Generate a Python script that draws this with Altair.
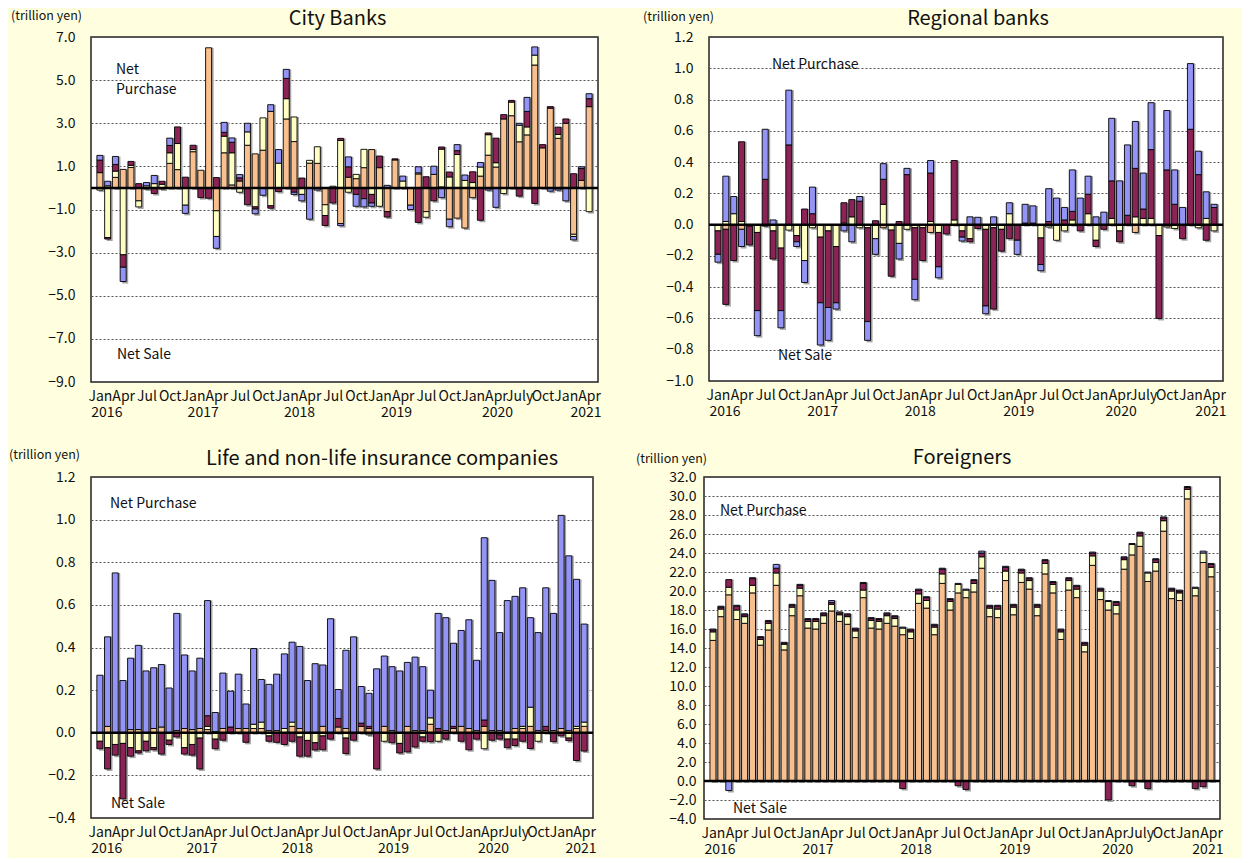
import altair as alt
import pandas as pd

FONT = "Noto Sans CJK JP"
N = 64
COMP_NAMES = ["T-Bills", "Medium-term", "Long-term", "Super long-term"]
COMP_COLORS = ["#F9C08F", "#FFFFC4", "#8C2356", "#9494F7"]
YEARS = ["2016", "2017", "2018", "2019", "2020", "2021"]
YEAR_POS = [0.9, 13.3, 25.7, 38.2, 51.2, 62.6]

# ---------------- City Banks ----------------
city_tb = [0.71, 0.10, 0.49, 0.86, 0.95, -0.60, -0.05, 0.0, -0.05, 1.14,
           0.85, 0.0, 1.68, 0.82, 6.50, -1.06, 1.63, 0.14, 0.32, 1.98,
           1.58, 1.75, 3.55, 0.0, 3.20, 2.15, 0.0, 1.15, 1.14, -0.78,
           0.08, -1.65, 0.50, 0.43, 0.94, 1.78, 0.94, -1.10, 1.30, 0.0,
           -0.80, 0.65, -1.10, 0.63, 0.05, -1.45, -1.40, -1.86, -0.45, 0.55,
           1.52, 0.97, 3.20, 3.35, 2.14, 2.46, 5.70, 1.86, 3.70, 2.30,
           3.00, -2.15, 0.35, 3.77]
city_med = [-0.10, -2.30, 0.29, -3.10, 0.10, -0.28, 0.10, 0.20, 0.17, 0.49,
            1.21, -0.80, 0.10, 0.0, 0.0, -1.19, 0.77, 1.49, -0.20, 0.62,
            -0.88, 1.50, -0.83, 1.15, 0.94, 1.14, -0.30, 0.13, 0.77, -0.50,
            0.0, 2.20, -0.20, 0.20, 0.85, -0.30, -0.85, 0.0, 0.0, 0.32,
            0.0, 0.05, -0.26, 0.0, 1.75, 0.51, 1.55, 0.35, 0.25, 0.42,
            0.95, 0.20, -0.26, 0.63, 0.77, 0.37, 0.46, 0.0, 0.0, 0.18,
            0.0, -0.10, 0.0, -1.10]
city_long = [0.58, -0.07, 0.31, -0.58, 0.18, 0.20, 0.0, -0.26, 0.14, 0.34,
             0.77, 0.50, 0.20, -0.45, -0.48, 0.48, 0.18, 0.49, 0.15, -0.78,
             -0.10, 0.0, -0.11, -0.17, 0.94, -0.20, 0.46, 0.0, 0.0, -0.46,
             -0.70, 0.10, 0.48, -0.30, -0.50, -0.40, 0.54, -0.25, 0.05, 0.0,
             0.0, -1.60, 0.52, -0.60, 0.10, 0.23, 0.18, 0.0, 0.50, -1.50,
             0.08, 1.14, 0.20, 0.08, -0.38, 0.72, -0.72, 0.15, 0.07, 0.34,
             0.20, 0.66, 0.55, 0.37]
city_super = [0.22, 0.21, 0.37, -0.66, 0.0, 0.0, 0.15, 0.38, 0.0, 0.34,
              0.0, -0.38, 0.0, 0.0, 0.0, -0.55, 0.46, 0.20, 0.15, 0.40,
              -0.22, -0.34, 0.31, 0.63, 0.42, -0.10, -0.30, -1.45, -0.10, 0.0,
              0.0, -0.10, 0.46, -0.55, -0.38, -0.15, 0.0, 0.12, 0.0, 0.23,
              -0.20, 0.28, 0.0, 0.38, -0.45, -0.35, 0.28, 0.25, 0.0, 0.21,
              -0.10, -0.90, 0.0, 0.0, 0.09, 0.65, 0.38, 0.0, -0.15, -0.10,
              -0.60, -0.16, 0.08, 0.23]

# ---------------- Regional banks ----------------
reg_tb = [0, -0.03, 0, -0.03, 0, 0, -0.01, 0, 0, 0,
          0, 0, 0, 0, 0, 0, 0, 0, 0, 0,
          0, -0.02, 0, 0, 0, 0, 0, -0.05, 0, 0,
          0, 0, 0, 0, 0, 0, 0, 0, 0, 0,
          0, 0, 0, 0, 0, 0, 0, 0, 0, 0,
          0, 0, 0, -0.05, 0, 0, 0, -0.015, 0, 0,
          0, 0, 0, 0]
reg_med = [-0.04, 0.02, 0.07, 0.02, -0.01, -0.05, 0, -0.04, -0.15, -0.035,
           -0.07, -0.23, -0.02, -0.08, -0.04, -0.14, 0.01, 0.05, -0.02, -0.02,
           -0.09, 0.13, -0.035, -0.12, -0.03, -0.02, -0.02, 0.02, -0.05, 0,
           0.03, -0.04, -0.09, 0, -0.03, -0.02, -0.03, 0.07, 0, 0,
           0, -0.085, -0.015, -0.10, -0.04, 0.03, 0, 0.07, -0.10, 0,
           0.04, -0.04, 0, 0.05, 0.04, 0.04, -0.07, 0, -0.025, 0,
           0, -0.02, 0.04, -0.04]
reg_long = [-0.15, -0.48, -0.23, 0.51, -0.12, -0.50, 0.29, -0.18, -0.40, 0.51,
            -0.04, 0.10, 0.07, -0.42, -0.49, -0.36, 0.13, 0.11, 0.15, -0.60,
            0.025, 0.16, -0.295, 0.02, 0.32, -0.33, -0.21, 0.31, -0.22, -0.06,
            0.38, -0.04, -0.02, -0.025, -0.49, -0.52, -0.14, -0.09, -0.10, 0.01,
            0.01, -0.17, 0.02, 0, 0.03, 0.055, -0.04, 0.125, -0.04, -0.03,
            0.24, -0.07, 0.06, 0.31, 0.06, 0.44, -0.53, 0.35, 0.13, -0.09,
            0.61, 0.32, -0.10, 0.11]
reg_super = [-0.05, 0.29, 0.11, -0.11, 0, -0.16, 0.32, 0.03, -0.11, 0.35,
             -0.03, -0.14, 0.17, -0.27, -0.21, -0.04, -0.04, -0.11, 0.03, -0.12,
             -0.10, 0.10, 0, -0.10, 0.04, -0.13, 0, 0.08, -0.07, 0,
             0, -0.025, 0.05, 0.047, -0.05, 0.05, 0, 0.07, -0.09, 0.12,
             0.11, -0.04, 0.21, 0.17, 0.08, 0.265, 0.17, 0.115, 0.05, 0.08,
             0.40, 0.28, 0.45, 0.30, 0.23, 0.30, 0, 0.38, 0.22, 0.11,
             0.42, 0.15, 0.17, 0.02]

# ---------------- Life and non-life insurance companies ----------------
life_tb = [0, 0.03, 0.0, 0, 0.015, 0.015, 0, 0.02, 0.027, 0,
           0.01, 0.02, 0.015, 0.02, 0.015, 0.005, 0.02, 0, 0.02, 0.02,
           0.02, 0.02, 0.01, 0.01, 0.0, 0.03, 0.02, 0, 0, 0.03,
           0, 0.027, 0.02, 0, 0.03, 0.02, 0, 0.03, 0.01, 0,
           0.03, 0.01, 0.01, 0.04, 0, 0.01, 0.02, 0.03, 0.02, 0.01,
           0.03, 0.01, 0.01, 0, 0.02, 0.02, 0.03, 0.01, 0.01, 0.01,
           0.02, 0.01, 0.02, 0.03]
life_med = [-0.04, -0.07, -0.055, -0.05, -0.07, -0.085, -0.04, -0.07, 0, -0.035,
            0, -0.07, -0.055, -0.025, 0.015, -0.03, 0, 0, 0, 0,
            0.02, 0.03, -0.015, 0, 0.02, 0.02, -0.02, -0.036, -0.047, -0.015,
            0, 0, -0.025, 0, 0, -0.01, 0, -0.04, 0, -0.05,
            0, 0, -0.02, 0.03, -0.04, 0, 0, 0, 0, 0,
            -0.075, 0, -0.01, -0.03, -0.03, 0.01, 0.09, -0.04, 0, 0,
            0, -0.025, 0.01, 0.02]
life_long = [-0.035, -0.10, -0.05, -0.26, -0.04, -0.01, -0.045, -0.01, -0.10, -0.02,
             -0.02, -0.03, -0.05, -0.145, 0.05, -0.045, -0.035, 0.027, 0, -0.045,
             0, 0, -0.025, -0.045, -0.055, -0.04, -0.09, -0.074, -0.034, -0.065,
             -0.03, 0.04, -0.073, -0.035, 0.015, 0.01, -0.17, 0, -0.047, -0.045,
             -0.09, -0.067, -0.02, -0.042, 0.02, -0.03, 0.01, -0.04, -0.08, -0.03,
             0.03, -0.035, -0.02, -0.04, -0.03, -0.04, -0.074, 0, 0.02, -0.042,
             -0.015, -0.012, -0.13, -0.086]
life_super = [0.27, 0.42, 0.75, 0.245, 0.335, 0.395, 0.29, 0.285, 0.293, 0.21,
              0.55, 0.345, 0.275, 0.33, 0.54, 0.09, 0.26, 0.168, 0.255, 0.115,
              0.355, 0.2, 0.217, 0.265, 0.35, 0.375, 0.385, 0.245, 0.324, 0.288,
              0.535, 0.136, 0.367, 0.45, 0.172, 0.155, 0.30, 0.33, 0.30, 0.29,
              0.30, 0.345, 0.30, 0.13, 0.54, 0.53, 0.39, 0.45, 0.51, 0.33,
              0.855, 0.705, 0.46, 0.62, 0.62, 0.65, 0.42, 0.46, 0.65, 0.55,
              1.0, 0.82, 0.69, 0.46]

# ---------------- Foreigners ----------------
for_tb = [14.8, 17.3, 19.6, 17.0, 16.6, 19.8, 14.3, 15.9, 20.6, 13.8, 17.4, 19.5,
          16.1, 16.0, 16.6, 17.9, 16.8, 16.5, 15.1, 19.3, 16.1, 16.0, 16.6, 16.3,
          15.4, 15.0, 18.7, 18.2, 15.4, 20.8, 18.0, 19.8, 19.3, 19.9, 22.4, 17.3,
          17.2, 21.1, 17.5, 20.9, 20.2, 17.4, 21.8, 19.8, 14.9, 20.1, 19.3, 13.6,
          22.7, 19.1, 18.0, 17.6, 22.3, 23.8, 24.7, 21.0, 22.1, 26.3, 19.2, 19.0,
          29.7, 19.5, 23.0, 21.5]
for_med = [0.9, 0.8, 0.8, 1.0, 0.7, 0.8, 0.6, 0.7, 1.3, 0.6, 0.9, 0.8,
           0.7, 0.8, 0.8, 0.7, 0.7, 0.8, 0.7, 0.8, 0.8, 0.8, 0.8, 0.8,
           0.7, 0.7, 1.0, 0.8, 0.8, 1.0, 0.9, 0.9, 0.8, 0.9, 1.2, 0.9,
           0.9, 1.0, 0.8, 1.0, 0.9, 0.9, 1.1, 0.9, 0.8, 1.0, 0.9, 0.7,
           1.0, 0.9, 0.9, 0.9, 1.0, 1.1, 1.1, 0.9, 0.9, 1.1, 0.8, 0.8,
           1.0, 0.8, 1.0, 1.0]
for_long = [0.2, 0.2, 0.8, 0.4, 0.2, 0.7, 0.2, 0.2, 0.5, 0.1, 0.2, 0.3,
            0.2, 0.2, 0.2, 0.2, 0.2, 0.2, 0.2, 0.7, 0.2, 0.2, 0.2, 0.2,
            -0.8, 0.2, 0.4, 0.3, 0.2, 0.5, 0.2, -0.5, -0.9, 0.3, 0.4, 0.2,
            0.3, 0.4, 0.2, 0.3, 0.2, 0.2, 0.3, 0.2, 0.2, 0.2, 0.3, 0.2,
            0.3, 0.2, -2.0, 0.3, 0.2, -0.5, 0.3, -0.8, 0.3, 0.3, 0.2, 0.2,
            0.2, -0.8, -0.6, 0.3]
for_super = [0.1, 0.1, -1.0, 0.1, 0.1, 0.1, 0.1, 0.1, 0.4, 0.1, 0.1, 0.1,
             0.1, 0.1, 0.1, 0.2, 0.1, 0.1, 0.1, 0.1, 0.1, 0.1, 0.1, 0.1,
             0.1, 0.1, 0.1, 0.1, 0.1, 0.1, 0.1, 0.1, 0.1, 0.1, 0.2, 0.1,
             0.1, 0.1, 0.1, 0.1, 0.1, 0.1, 0.1, 0.1, 0.1, 0.1, 0.1, 0.1,
             0.1, 0.1, 0.1, 0.1, 0.1, 0.1, 0.1, 0.1, 0.1, 0.1, 0.1, 0.1,
             0.1, 0.1, 0.2, 0.1]

CITY_TICKS = [-9, -7, -5, -3, -1, 1, 3, 5, 7]
REG_TICKS = [-1.0, -0.8, -0.6, -0.4, -0.2, 0.0, 0.2, 0.4, 0.6, 0.8, 1.0, 1.2]
LIFE_TICKS = [-0.4, -0.2, 0.0, 0.2, 0.4, 0.6, 0.8, 1.0, 1.2]
FOR_TICKS = [-4, -2, 0, 2, 4, 6, 8, 10, 12, 14, 16, 18, 20, 22, 24, 26, 28, 30, 32]

LABEL_EXPR = ("datum.value == 54 ? 'July' : "
              "['Jan','Apr','Jul','Oct'][floor(datum.value / 3) % 4]")


def text_layer(txt, x, y, size=14, align="left"):
    return alt.Chart(pd.DataFrame({"t": [txt]})).mark_text(
        align=align, baseline="middle", fontSize=size, font=FONT, color="#111"
    ).encode(x=alt.value(x), y=alt.value(y), text="t:N")


def panel(title, series, ticks, w, h, label_pad, title_dx, title_dy,
          unit_dx, unit_dy, notes):
    rows = []
    for ci, (name, vals) in enumerate(zip(COMP_NAMES, series)):
        for i, v in enumerate(vals):
            if v != 0:
                rows.append({"idx": i, "comp": name, "ord": ci, "value": v})
    df = pd.DataFrame(rows)
    hi = [sum(max(s[i], 0) for s in series) for i in range(N)]
    lo = [sum(min(s[i], 0) for s in series) for i in range(N)]
    sdf = pd.DataFrame({"idx": list(range(N)), "lo": lo, "hi": hi})

    xscale = alt.Scale(domain=[-0.5, N - 0.5], nice=False, zero=False)
    yscale = alt.Scale(domain=[ticks[0], ticks[-1]], nice=False, zero=False)
    xaxis = alt.Axis(values=list(range(0, N, 3)), labelExpr=LABEL_EXPR,
                     grid=False, ticks=False, domain=False, labelFontSize=14,
                     labelFont=FONT, labelPadding=7, labelColor="#111",
                     labelOverlap=False, labelBound=False, labelFlush=False,
                     title=None)
    yaxis = alt.Axis(values=ticks, format=".1f", grid=True, gridDash=[2, 2],
                     gridColor="#555", gridWidth=1, ticks=False, domain=False,
                     labelPadding=label_pad, labelFontSize=14, labelFont=FONT,
                     labelColor="#111", title=None)

    shadow = alt.Chart(sdf).mark_bar(size=6, color="#A4A4A4", xOffset=2,
                                     yOffset=2).encode(
        x=alt.X("idx:Q", scale=xscale, axis=xaxis),
        y=alt.Y("lo:Q", scale=yscale, axis=yaxis),
        y2="hi:Q")
    bars = alt.Chart(df).mark_bar(size=6, stroke="black",
                                  strokeWidth=0.9).encode(
        x=alt.X("idx:Q", scale=xscale, axis=xaxis),
        y=alt.Y("value:Q", stack="zero", scale=yscale, axis=yaxis),
        color=alt.Color("comp:N", scale=alt.Scale(domain=COMP_NAMES,
                                                  range=COMP_COLORS),
                        legend=None),
        order=alt.Order("ord:Q", sort="ascending"))
    zero = alt.Chart(pd.DataFrame({"z": [0]})).mark_rule(
        color="black", strokeWidth=2.5).encode(
        y=alt.Y("z:Q", scale=yscale, axis=yaxis),
        x=alt.value(0), x2=alt.value(w))
    years = alt.Chart(pd.DataFrame({"year": YEARS, "pos": YEAR_POS})).mark_text(
        fontSize=14, font=FONT, baseline="middle", color="#111").encode(
        x=alt.X("pos:Q", scale=xscale, axis=xaxis),
        y=alt.value(h + 31), text="year:N")

    layers = [shadow, bars, zero, years,
              text_layer(title, w / 2 + title_dx, title_dy, size=20,
                         align="center"),
              text_layer("(trillion yen)", unit_dx, unit_dy, size=12.5)]
    for (txt, x, y) in notes:
        layers.append(text_layer(txt, x, y))
    return alt.layer(*layers).properties(width=w, height=h)


city = panel("City Banks", [city_tb, city_med, city_long, city_super],
             CITY_TICKS, 507, 345, 16, -7, -18, -80, -21,
             [("Net", 25, 33), ("Purchase", 25, 53), ("Net Sale", 26, 318)])
regional = panel("Regional banks", [reg_tb, reg_med, reg_long, reg_super],
                 REG_TICKS, 514, 344, 16, 12, -18, -66, -20,
                 [("Net Purchase", 63, 28), ("Net Sale", 69, 319)])
life = panel("Life and non-life insurance companies",
             [life_tb, life_med, life_long, life_super],
             LIFE_TICKS, 502, 341, 16, 40, -18, -82, -22,
             [("Net Purchase", 19, 27), ("Net Sale", 20, 327)])
foreign = panel("Foreigners", [for_tb, for_med, for_long, for_super],
                FOR_TICKS, 516, 342, 8, 0, -19, -68, -18,
                [("Net Purchase", 16, 34), ("Net Sale", 29, 332)])

top = alt.hconcat(city, regional, spacing=39)
bottom = alt.hconcat(life, foreign, spacing=37)
chart = alt.vconcat(top, bottom, spacing=26).properties(
    padding={"left": 0, "top": 0, "right": 14, "bottom": 0}
).configure(background="#FFFFE0").configure_view(
    stroke="#222", strokeWidth=1.5, fill="white"
).configure_concat(spacing=0)

chart.save("out.html", embed_options={"renderer": "svg", "actions": False})
